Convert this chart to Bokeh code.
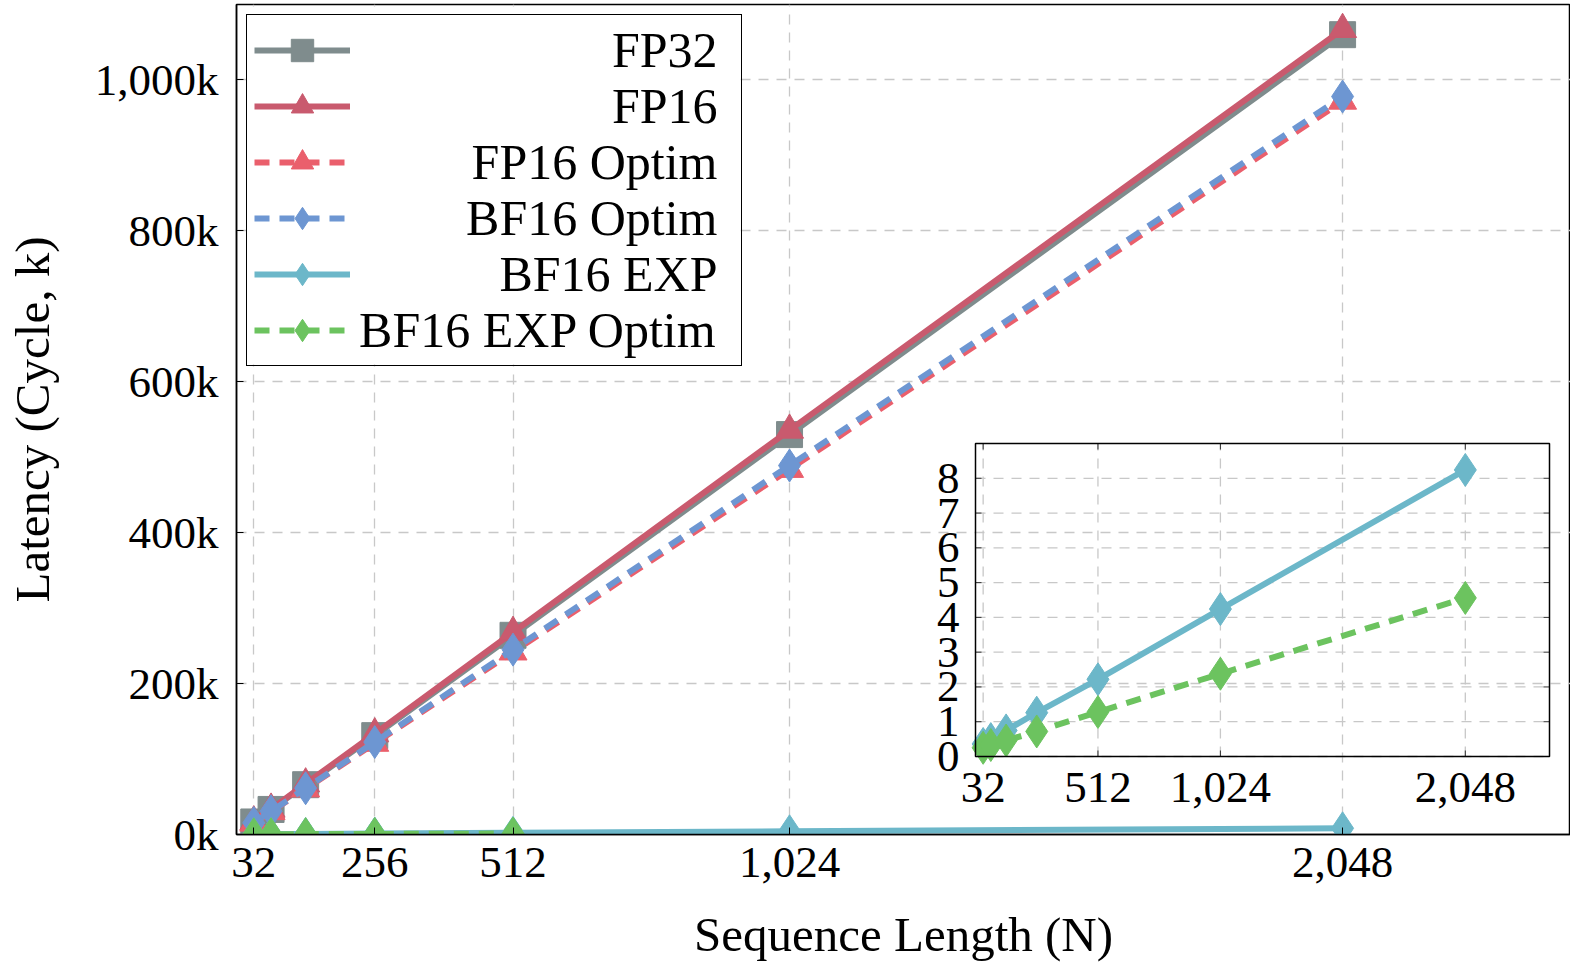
from bokeh.plotting import figure
from bokeh.models import (Range1d, FixedTicker, Legend, LegendItem,
                          CDSView, IndexFilter, ColumnDataSource)
from bokeh.embed import file_html
from bokeh.resources import INLINE
from bokeh.core.properties import value

# ---------------- data (latency in k cycles) ----------------
seq_len = [32, 64, 128, 256, 512, 1024, 2048]
fp32 = [16.6, 33.2, 66.0, 131.0, 264.0, 530.0, 1060.0]
fp16 = [16.9, 33.7, 67.2, 133.5, 268.0, 536.0, 1067.0]
fp16_optim = [15.2, 30.4, 60.5, 121.0, 242.0, 484.0, 972.0]
bf16_optim = [15.4, 30.8, 61.3, 122.5, 245.0, 489.0, 978.0]
bf16_exp = [0.36, 0.50, 0.75, 1.26, 2.22, 4.24, 8.24]
bf16_exp_optim = [0.25, 0.33, 0.46, 0.72, 1.28, 2.38, 4.56]

series_names = ["FP32", "FP16", "FP16 Optim", "BF16 Optim", "BF16 EXP", "BF16 EXP Optim"]

x_ticks = [32, 256, 512, 1024, 2048]
x_tick_labels = ["32", "256", "512", "1,024", "2,048"]
y_ticks = [0, 200, 400, 600, 800, 1000]
y_tick_labels = ["0k", "200k", "400k", "600k", "800k", "1,000k"]

inset_x_ticks = [32, 512, 1024, 2048]
inset_x_tick_labels = ["32", "512", "1,024", "2,048"]
inset_y_ticks = [0, 1, 2, 3, 4, 5, 6, 7, 8]
inset_y_tick_labels = ["0", "1", "2", "3", "4", "5", "6", "7", "8"]

# ---------------- styles ----------------
C_FP32 = "#7f8c8d"
C_FP16 = "#c95a6e"
C_FP16O = "#ea5f6c"
C_BF16O = "#6d96d2"
C_EXP = "#6cb7c9"
C_EXPO = "#6cc35f"
FONT = "Liberation Serif"
FS = "45px"
FS_LABEL = "49px"
FS_LEGEND = "50px"
DASH = "15 10"
LW = 6

# layout in pixels
W, H = 1570, 965
FL, FR, FT, FB = 236, 1570, 4, 834
X0, X1 = 0, 2470
Y0, Y1 = 0, 1100


def px_x(px):
    return X0 + (px - FL) * (X1 - X0) / (FR - FL)


def px_y(py):
    return Y0 + (FB - py) * (Y1 - Y0) / (FB - FT)


p = figure(width=W, height=H, x_range=Range1d(X0, X1), y_range=Range1d(Y0, Y1),
           output_backend="svg", toolbar_location=None,
           min_border_left=FL, min_border_right=W - FR,
           min_border_top=FT, min_border_bottom=H - FB)
p.background_fill_color = "white"
p.border_fill_color = "white"
p.outline_line_color = "black"
p.outline_line_width = 1.5
p.outline_line_alpha = 1

for ax in (p.xaxis[0], p.yaxis[0]):
    ax.axis_line_color = "black"
    ax.axis_line_width = 1.5
    ax.major_tick_in = 7
    ax.major_tick_out = 0
    ax.major_tick_line_color = "black"
    ax.major_tick_line_width = 1
    ax.minor_tick_line_color = None
    ax.major_label_text_font = FONT
    ax.major_label_text_font_size = FS
    ax.major_label_text_color = "black"
    ax.axis_label_text_font = FONT
    ax.axis_label_text_font_size = FS_LABEL
    ax.axis_label_text_font_style = "normal"
    ax.axis_label_text_color = "black"

p.xaxis.ticker = FixedTicker(ticks=x_ticks)
p.xaxis.major_label_overrides = dict(zip(x_ticks, x_tick_labels))
p.yaxis.ticker = FixedTicker(ticks=y_ticks)
p.yaxis.major_label_overrides = dict(zip(y_ticks, y_tick_labels))
p.xaxis.axis_label = "Sequence Length (N)"
p.yaxis.axis_label = "Latency (Cycle, k)"
p.xaxis.major_label_standoff = 13
p.yaxis.major_label_standoff = 18
p.xaxis.axis_label_standoff = 27
p.yaxis.axis_label_standoff = 32

p.xgrid.ticker = FixedTicker(ticks=x_ticks)
p.ygrid.ticker = FixedTicker(ticks=y_ticks)
for g in (p.xgrid[0], p.ygrid[0]):
    g.grid_line_color = "#c8c8c8"
    g.grid_line_dash = "10 8"
    g.grid_line_width = 1.3

# ---------------- legend box geometry (pixels) ----------------
L_MARGIN, L_PAD, L_SPACING = 10, 7, 0
L_GW, L_GH, L_LW, L_STAND = 96, 56, 374, 10
leg_left = FL + L_MARGIN
leg_top = FT + L_MARGIN
leg_right = leg_left + 2 * L_PAD + L_GW + L_STAND + L_LW
leg_bottom = leg_top + 2 * L_PAD + 6 * L_GH + 5 * L_SPACING

# white background behind legend (covers the grid)
p.quad(left=[px_x(leg_left)], right=[px_x(leg_right)], bottom=[px_y(leg_bottom)],
       top=[px_y(leg_top)], fill_color="white", line_color=None)

src = ColumnDataSource(dict(n=seq_len, fp32=fp32, fp16=fp16, fp16o=fp16_optim,
                            bf16o=bf16_optim, exp=bf16_exp, expo=bf16_exp_optim))

specs = [
    ("fp32", C_FP32, "solid", "square", 26),
    ("fp16", C_FP16, "solid", "triangle", 28),
    ("fp16o", C_FP16O, DASH, "triangle", 28),
    ("bf16o", C_BF16O, DASH, "diamond", 33),
    ("exp", C_EXP, "solid", "diamond", 33),
    ("expo", C_EXPO, DASH, "diamond", 33),
]

legend_renderers = []
for col, color, dash, marker, size in specs:
    kw = {}
    if col == "expo":
        kw["view"] = CDSView(filter=IndexFilter(indices=[0, 1, 2, 3, 4]))
    lr = p.line("n", col, source=src, line_color=color, line_width=LW, line_dash=dash, **kw)
    sr = p.scatter("n", col, source=src, marker=marker, size=size,
                   fill_color=color, line_color=color, **kw)
    legend_renderers.append([lr, sr])

legend = Legend(items=[LegendItem(label=" ", renderers=r) for r in legend_renderers],
                location="top_left", margin=L_MARGIN, padding=L_PAD, spacing=L_SPACING,
                glyph_width=L_GW, glyph_height=L_GH, label_width=L_LW, label_height=L_GH,
                label_standoff=L_STAND, label_text_font_size="10px",
                border_line_color="black", border_line_width=1.5, border_line_alpha=1,
                background_fill_alpha=0)
p.add_layout(legend)

label_x = [px_x(leg_right - 23)] * len(series_names)
label_y = [px_y(leg_top + L_PAD + L_GH / 2 + i * (L_GH + L_SPACING))
           for i in range(len(series_names))]
p.text(x=label_x, y=label_y, text=series_names, text_align="right",
       text_baseline="middle", text_font=value(FONT), text_font_size=FS_LEGEND,
       text_color="black")

# ---------------- inset ----------------
IX0, IX1, IY0, IY1 = 0, 2400, 0, 9
ins = p.subplot(x_source=Range1d(IX0, IX1), y_source=Range1d(IY0, IY1),
                x_target=Range1d(px_x(975), px_x(1549)),
                y_target=Range1d(px_y(756), px_y(443)))

# grid
ins.segment(x0=inset_x_ticks, y0=[IY0] * len(inset_x_ticks),
            x1=inset_x_ticks, y1=[IY1] * len(inset_x_ticks),
            line_color="#c8c8c8", line_dash="10 8", line_width=1.3)
ins.segment(x0=[IX0] * len(inset_y_ticks), y0=inset_y_ticks,
            x1=[IX1] * len(inset_y_ticks), y1=inset_y_ticks,
            line_color="#c8c8c8", line_dash="10 8", line_width=1.3)
# tick marks (inside, both sides)
tx = 6 * (IX1 - IX0) / (1549 - 975)
ty = 6 * (IY1 - IY0) / (756 - 443)
ins.segment(x0=inset_x_ticks, y0=[IY0] * 4, x1=inset_x_ticks, y1=[IY0 + ty] * 4,
            line_color="#333333", line_width=1)
ins.segment(x0=inset_x_ticks, y0=[IY1] * 4, x1=inset_x_ticks, y1=[IY1 - ty] * 4,
            line_color="#333333", line_width=1)
ins.segment(x0=[IX0] * 9, y0=inset_y_ticks, x1=[IX0 + tx] * 9, y1=inset_y_ticks,
            line_color="#333333", line_width=1)
ins.segment(x0=[IX1] * 9, y0=inset_y_ticks, x1=[IX1 - tx] * 9, y1=inset_y_ticks,
            line_color="#333333", line_width=1)

# data
ins.line("n", "exp", source=src, line_color=C_EXP, line_width=LW)
ins.scatter("n", "exp", source=src, marker="diamond", size=33, fill_color=C_EXP, line_color=C_EXP)
ins.line("n", "expo", source=src, line_color=C_EXPO, line_width=LW, line_dash=DASH)
ins.scatter("n", "expo", source=src, marker="diamond", size=33, fill_color=C_EXPO, line_color=C_EXPO)

# border
ins.quad(left=[IX0], right=[IX1], bottom=[IY0], top=[IY1], fill_color=None,
         line_color="black", line_width=1.5)

# tick labels
ins.text(x=inset_x_ticks, y=[IY0] * 4, text=inset_x_tick_labels, text_align="center",
         text_baseline="middle", y_offset=31, text_font=value(FONT), text_font_size=FS,
         text_color="black")
ins.text(x=[IX0] * 9, y=inset_y_ticks, text=inset_y_tick_labels, text_align="right",
         text_baseline="middle", x_offset=-16, text_font=value(FONT), text_font_size=FS,
         text_color="black")

open("out.html", "w").write(file_html(p, INLINE))
